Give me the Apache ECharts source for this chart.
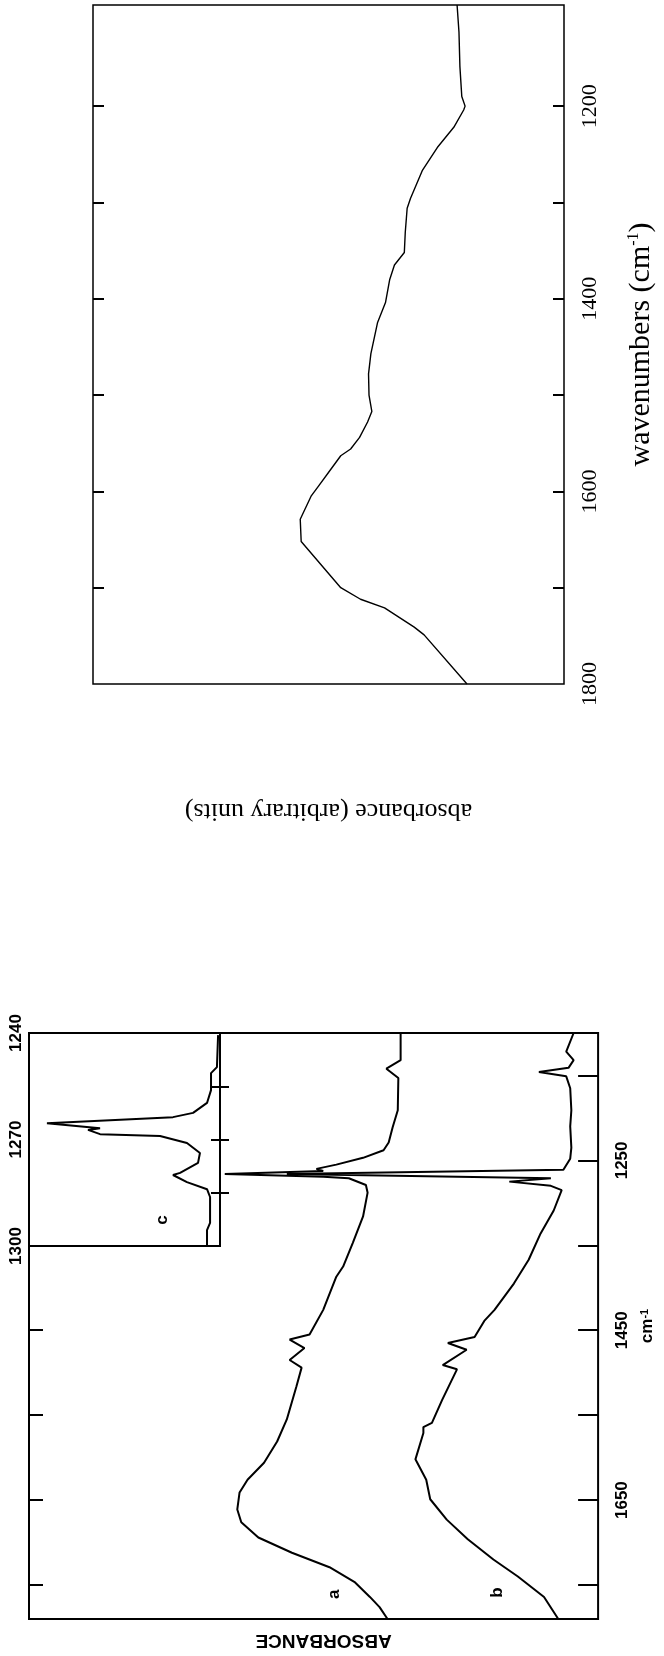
<!DOCTYPE html>
<html>
<head>
<meta charset="utf-8">
<title>IR absorbance spectra</title>
<script src="https://cdn.jsdelivr.net/npm/echarts@6.0.0/dist/echarts.min.js"></script>
<style>
  html, body { margin: 0; padding: 0; background: #fff; }
  #chart { width: 664px; height: 1656px; }
</style>
</head>
<body>
<div id="chart"></div>
<script>
// upper panel: single spectrum, wavenumber (cm-1) vs absorbance (arbitrary units)
var topWavenumber = [1800, 1749, 1741, 1721, 1712, 1700, 1652, 1629, 1605, 1595, 1577, 1563, 1556, 1544, 1528, 1517,
  1500, 1478, 1457, 1425, 1404, 1380, 1365, 1352, 1331, 1306, 1296, 1267, 1243, 1222, 1204, 1200, 1190, 1159, 1123, 1095];
var topAbsorbance = [20.6, 29.7, 31.8, 38.1, 43.2, 47.4, 55.8, 56.0, 53.7, 52.2, 49.5, 47.4, 45.3, 43.4, 41.7, 40.8,
  41.4, 41.5, 41.0, 39.6, 37.9, 37.0, 36.0, 33.9, 33.7, 33.3, 32.6, 30.1, 26.9, 23.4, 21.3, 21.0, 21.7, 22.1, 22.3, 22.7];
var topTickValues = [1200, 1300, 1400, 1500, 1600, 1700];
var topLabelValues = [1200, 1400, 1600, 1800];

// lower panel: spectra a and b
var aWavenumber = [1101, 1132, 1142, 1153, 1191, 1211, 1229, 1238, 1247, 1255, 1260, 1262.4, 1265.9, 1269.4, 1271, 1279,
  1288, 1316, 1347, 1375, 1387, 1426, 1455, 1461, 1471, 1485, 1494, 1516, 1555, 1581, 1606, 1626, 1641, 1661, 1676,
  1694, 1712, 1729, 1747, 1764, 1776, 1790];
var aAbsorbance = [34.7, 34.7, 37.2, 35.1, 35.2, 36.1, 36.8, 37.7, 41.3, 46.0, 49.5, 48.3, 65.6, 48.3, 43.8, 40.8,
  40.5, 41.3, 43.1, 44.8, 46.0, 48.3, 50.7, 54.2, 51.6, 54.2, 52.1, 53.0, 54.7, 56.4, 58.7, 61.6, 63.0, 63.4, 62.7,
  59.7, 53.8, 47.2, 42.7, 40.1, 38.4, 37.0];
var bWavenumber = [1100, 1122, 1132, 1141, 1146, 1151, 1165, 1191, 1210, 1235, 1248, 1261, 1266, 1271, 1275, 1280, 1285,
  1309, 1336, 1367, 1395, 1426, 1439, 1458, 1465, 1473, 1491, 1496, 1532, 1559, 1564, 1571, 1602, 1626, 1649, 1673,
  1696, 1720, 1740, 1764, 1790];
var bAbsorbance = [4.3, 5.6, 4.3, 5.2, 10.4, 5.6, 4.9, 4.7, 4.9, 4.7, 4.9, 6.1, 54.7, 8.3, 15.6, 8.3, 6.4,
  7.8, 10.1, 12.2, 14.8, 18.2, 20.0, 21.7, 26.4, 23.1, 27.3, 24.8, 27.4, 29.2, 30.7, 30.7, 32.1, 30.2, 29.5, 26.6,
  22.9, 18.4, 14.1, 9.5, 7.0];
var mainTickValues = [1150, 1250, 1350, 1450, 1550, 1650, 1750];
var mainLeftTickValues = [1450, 1550, 1650, 1750];
var mainLabelValues = [1250, 1450, 1650];

// inset: spectrum c
var cWavenumber = [1240.6, 1249.6, 1251.3, 1256.1, 1259.7, 1262.5, 1263.7, 1265.4, 1266.8, 1267.3, 1268.5, 1269.0,
  1271.0, 1273.8, 1276.6, 1279.4, 1280.0, 1282.0, 1284.0, 1286.2, 1293.5, 1295.5, 1300];
var cAbsorbance = [1.0, 1.6, 4.7, 4.7, 6.8, 14.1, 24.6, 90.6, 62.8, 69.1, 62.8, 31.4,
  17.3, 10.5, 11.5, 20.9, 24.6, 17.3, 6.8, 5.2, 5.2, 6.8, 6.8];
var insetTickValues = [1255, 1270, 1285];
var insetLabelValues = [1240, 1270, 1300];

function pairs(xs, ys) {
  return ys.map(function (y, i) { return [xs[i], y]; });
}

var serif = 'Liberation Serif';
var sans = 'Liberation Sans';

function absAxis(grid, name, gap, style) {
  return {
    gridIndex: grid, type: 'value', min: 0, max: 100, inverse: true,
    axisLine: { show: false }, axisTick: { show: false }, axisLabel: { show: false }, splitLine: { show: false },
    name: name, nameLocation: 'middle', nameGap: gap, nameRotate: 180, nameTextStyle: style
  };
}

function wnAxis(grid, pos, min, max, ticks, tickLen, labels, labelStyle) {
  var ax = {
    gridIndex: grid, type: 'value', position: pos, inverse: true, min: min, max: max,
    axisLine: { show: false }, splitLine: { show: false },
    axisTick: { show: true, inside: true, length: tickLen, customValues: ticks, lineStyle: { color: '#000', width: 2 } },
    axisLabel: { show: false }
  };
  if (labels) {
    ax.axisLabel = Object.assign({ show: true, customValues: labels, rotate: 90, color: '#000',
      showMinLabel: true, showMaxLabel: true, formatter: function (v) { return String(v); } }, labelStyle);
  }
  return ax;
}

function tag(text, coord) {
  return {
    symbol: 'circle', symbolSize: 1, itemStyle: { color: 'rgba(0,0,0,0)' },
    label: { show: true, position: 'inside', formatter: text, rotate: 90, color: '#000',
      fontFamily: sans, fontWeight: 'bold', fontSize: 17 },
    data: [{ coord: coord }]
  };
}

var chart = echarts.init(document.getElementById('chart'));
chart.setOption({
  animation: false,
  backgroundColor: '#fff',
  grid: [
    { left: 93, top: 5, width: 475, height: 679, show: true, borderColor: '#000', borderWidth: 1.5 },
    { left: 29, top: 1033, width: 576, height: 586, show: true, borderColor: '#000', borderWidth: 2 },
    { left: 29, top: 1033, width: 191, height: 213, show: true, borderColor: '#000', borderWidth: 2 }
  ],
  xAxis: [
    absAxis(0, 'absorbance (arbitrary units)', 114, { fontFamily: serif, fontSize: 26, color: '#000' }),
    absAxis(1, 'ABSORBANCE', 12, { fontFamily: sans, fontWeight: 'bold', fontSize: 19, color: '#000',
      padding: [0, 20, 0, 0] }),
    absAxis(2, '', 0, {})
  ],
  yAxis: [
    Object.assign(wnAxis(0, 'right', 1095, 1800, topTickValues, 11, topLabelValues,
      { margin: 15, fontFamily: serif, fontSize: 22 }), {
      name: 'wavenumbers (cm{sup|-1})', nameLocation: 'middle', nameRotate: 90, nameGap: 62,
      nameTextStyle: { fontFamily: serif, fontSize: 30, color: '#000',
        rich: { sup: { fontFamily: serif, fontSize: 16, color: '#000', verticalAlign: 'top' } } }
    }),
    wnAxis(0, 'left', 1095, 1800, topTickValues, 11, null),
    Object.assign(wnAxis(1, 'right', 1100, 1790, mainTickValues, 20, mainLabelValues,
      { margin: 16, fontFamily: sans, fontWeight: 'bold', fontSize: 17 }), {
      name: 'cm{sup|-1}', nameLocation: 'middle', nameRotate: 90, nameGap: 31,
      nameTextStyle: { fontFamily: sans, fontWeight: 'bold', fontSize: 17, color: '#000',
        rich: { sup: { fontFamily: sans, fontWeight: 'bold', fontSize: 11, color: '#000', verticalAlign: 'top' } } }
    }),
    wnAxis(1, 'left', 1100, 1790, mainLeftTickValues, 14, null),
    wnAxis(2, 'left', 1240, 1300, insetTickValues, 9, insetLabelValues,
      { margin: 4, fontFamily: sans, fontWeight: 'bold', fontSize: 17 }),
    wnAxis(2, 'right', 1240, 1300, insetTickValues, 9, null)
  ],
  series: [
    { type: 'line', xAxisIndex: 0, yAxisIndex: 0, data: pairs(topAbsorbance, topWavenumber),
      symbol: 'none', lineStyle: { color: '#000', width: 1.4 } },
    { type: 'line', xAxisIndex: 1, yAxisIndex: 2, data: pairs(aAbsorbance, aWavenumber),
      symbol: 'none', lineStyle: { color: '#000', width: 2 }, markPoint: tag('a', [46.4, 1761]) },
    { type: 'line', xAxisIndex: 1, yAxisIndex: 2, data: pairs(bAbsorbance, bWavenumber),
      symbol: 'none', lineStyle: { color: '#000', width: 2 }, markPoint: tag('b', [17.7, 1759]) },
    { type: 'line', xAxisIndex: 2, yAxisIndex: 4, data: pairs(cAbsorbance, cWavenumber),
      symbol: 'none', lineStyle: { color: '#000', width: 2 }, markPoint: tag('c', [30.4, 1292.7]) }
  ]
});
</script>
</body>
</html>
